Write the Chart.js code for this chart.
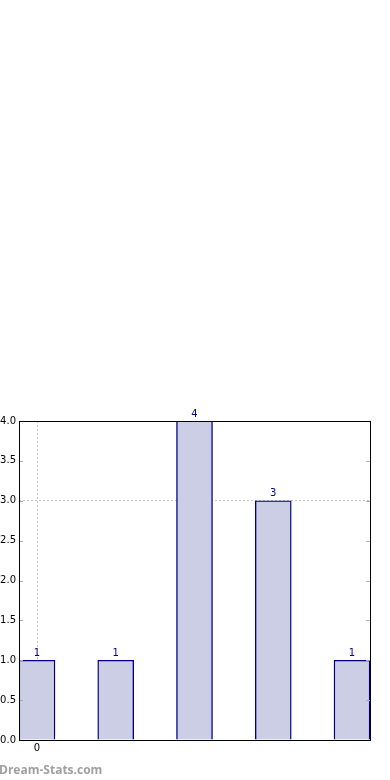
<!DOCTYPE html>
<html>
<head>
<meta charset="utf-8">
<script src="https://cdn.jsdelivr.net/npm/chart.js@4"></script>
<style>
  html, body { margin: 0; padding: 0; background: #fff; }
  #wrap { position: relative; width: 390px; height: 780px; }
  #mark { position: absolute; left: -1px; top: 761px; font: bold 12px "Open Sans", sans-serif; color: #a0a0a0; }
</style>
</head>
<body>
<div id="wrap">
  <canvas id="hist" width="390" height="780"></canvas>
  <div id="mark">Dream-Stats.com</div>
</div>
<script>
const positions = [0, 1, 2, 3, 4];
const counts = [1, 1, 4, 3, 1];
const yTicks = [0, 0.5, 1, 1.5, 2, 2.5, 3, 3.5, 4];

const frame = {
  id: 'frame',
  afterDatasetsDraw(chart) {
    const c = chart.ctx, a = chart.chartArea, y = chart.scales.y;
    c.save();
    // inside tick marks
    c.strokeStyle = '#aaa';
    c.lineWidth = 1;
    yTicks.forEach(v => {
      const py = Math.round(y.getPixelForValue(v)) + 0.5;
      c.beginPath();
      c.moveTo(a.left, py); c.lineTo(a.left + 4, py);
      c.moveTo(a.right, py); c.lineTo(a.right - 4, py);
      c.stroke();
    });
    c.strokeStyle = '#000';
    c.strokeRect(Math.round(a.left) + 0.5, Math.round(a.top) + 0.5,
      Math.round(a.right - a.left), Math.round(a.bottom - a.top));
    // value labels
    c.fillStyle = '#00008b';
    c.font = '10px "DejaVu Sans"';
    c.textAlign = 'center';
    c.textBaseline = 'bottom';
    chart.getDatasetMeta(0).data.forEach((bar, i) => {
      c.fillText(String(counts[i]), bar.x, bar.y - 2);
    });
    c.restore();
  }
};

new Chart(document.getElementById('hist'), {
  type: 'bar',
  data: {
    datasets: [{
      data: positions.map((p, i) => ({ x: p, y: counts[i] })),
      backgroundColor: 'rgb(204, 206, 229)',
      borderColor: '#000080',
      borderWidth: 1.4,
      borderSkipped: 'bottom',
      barThickness: 36
    }]
  },
  options: {
    responsive: false,
    animation: false,
    layout: { padding: { top: 421, right: 20, left: 0, bottom: 0 } },
    plugins: { legend: { display: false }, tooltip: { enabled: false } },
    scales: {
      x: {
        type: 'linear',
        offset: false,
        min: -0.2286,
        max: 4.2286,
        afterBuildTicks: s => { s.ticks = [{ value: 0 }]; },
        afterFit: s => { s.height = 40; },
        ticks: {
          color: '#000',
          font: { family: 'DejaVu Sans', size: 10 },
          padding: 2,
          callback: v => String(v)
        },
        grid: { offset: false, color: '#c4c4c4', drawTicks: false, lineWidth: 1 },
        border: { display: false, dash: [2, 2] }
      },
      y: {
        min: 0,
        max: 4,
        afterBuildTicks: s => { s.ticks = yTicks.map(v => ({ value: v })); },
        afterFit: s => { s.width = 19; },
        ticks: {
          color: '#000',
          font: { family: 'DejaVu Sans', size: 10 },
          padding: 3,
          callback: v => v.toFixed(1)
        },
        grid: {
          drawTicks: false,
          color: c => (c.tick && c.tick.value === 3 ? '#c4c4c4' : 'rgba(0,0,0,0)')
        },
        border: { display: false, dash: [2, 2] }
      }
    }
  },
  plugins: [frame]
});
</script>
</body>
</html>
